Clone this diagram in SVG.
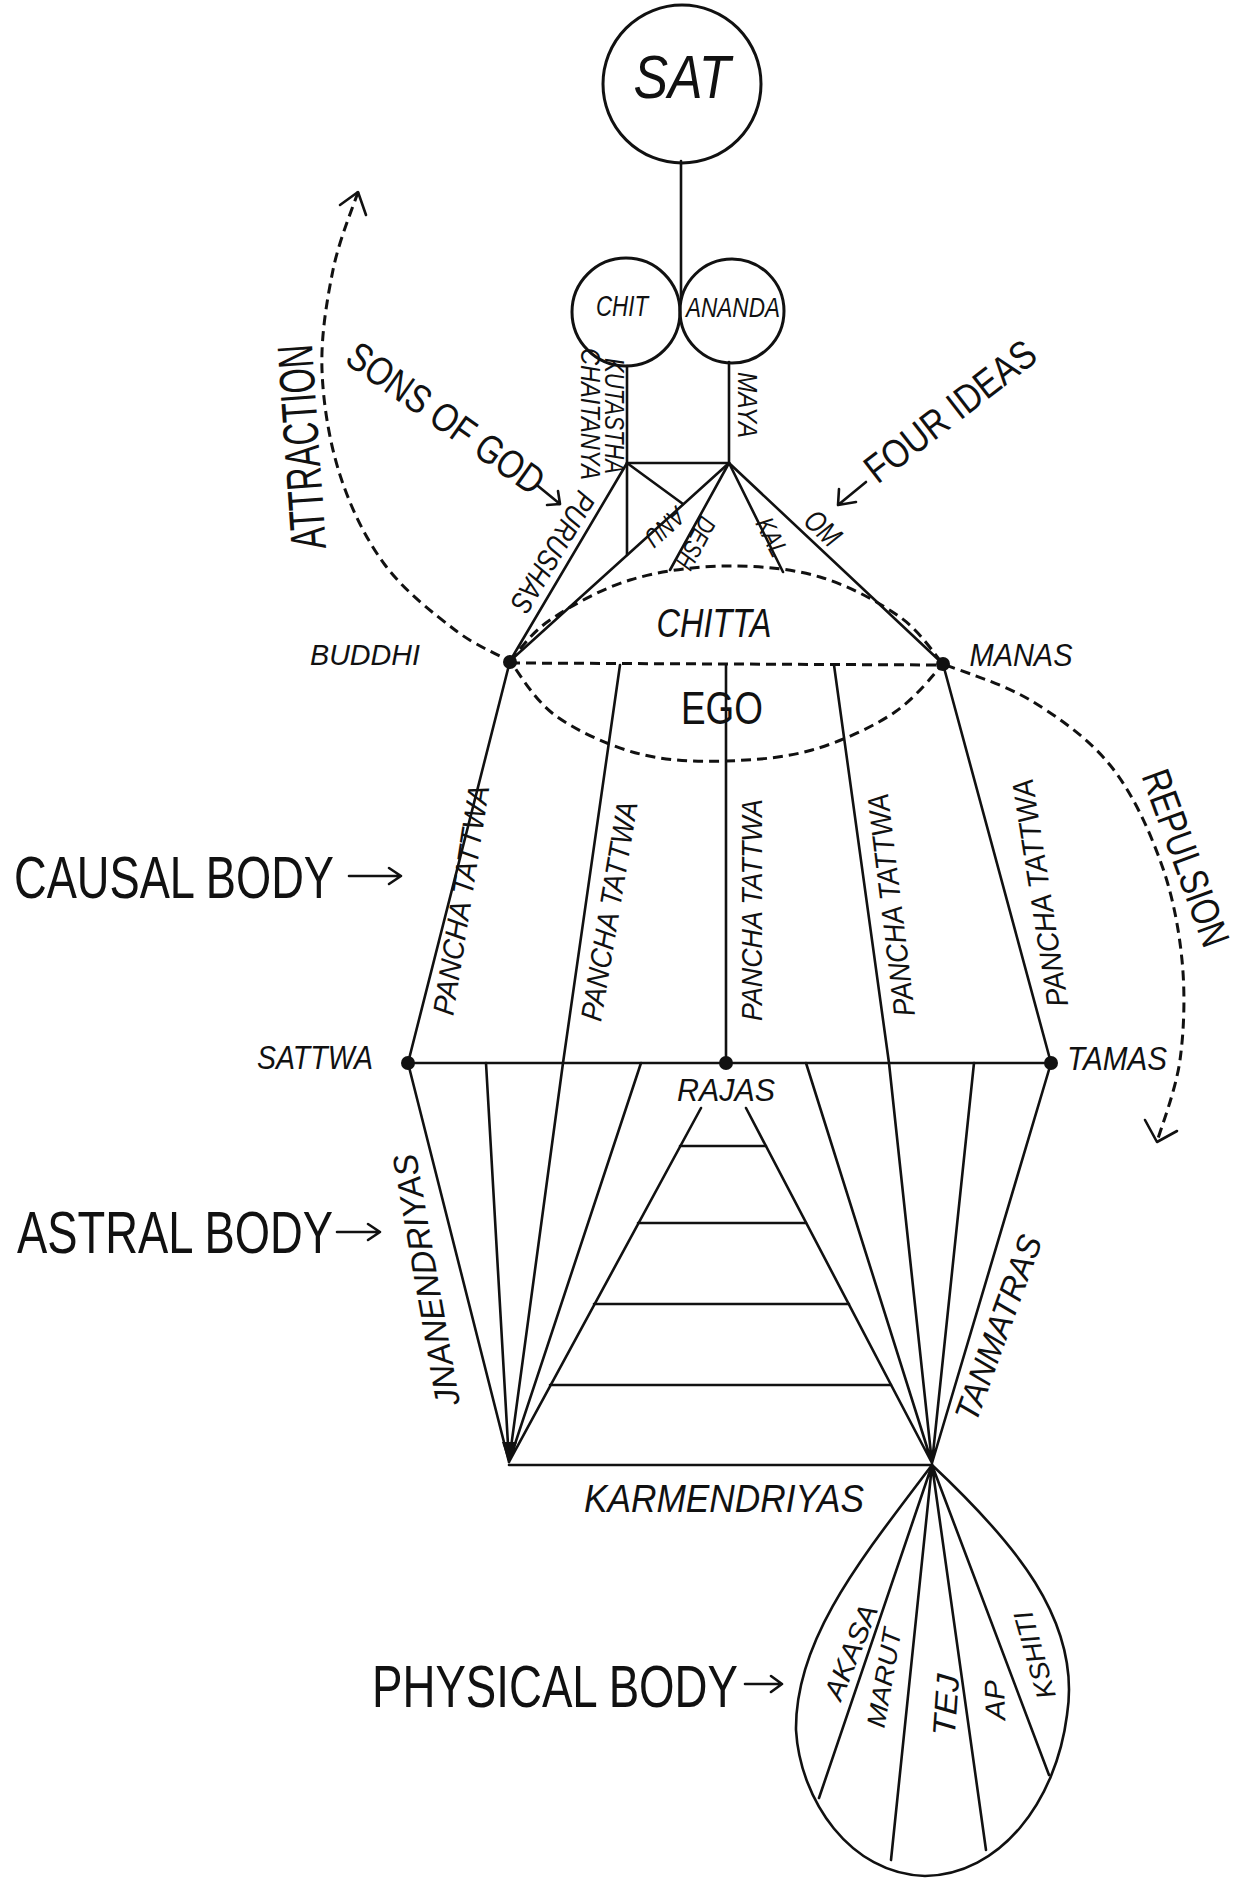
<svg xmlns="http://www.w3.org/2000/svg" width="1259" height="1881" viewBox="0 0 1259 1881">
<style>
.ln{fill:none;stroke:#111;stroke-width:2.6;stroke-linecap:round;stroke-linejoin:round}
.ds{fill:none;stroke:#111;stroke-width:3;stroke-dasharray:10 6}
.nd{fill:none;stroke:#111;stroke-width:3}
.dot{fill:#111}
.t{font-family:"Liberation Sans","DejaVu Sans",sans-serif;fill:#111;font-style:italic;text-anchor:middle;dominant-baseline:central}
.u{font-family:"Liberation Sans","DejaVu Sans",sans-serif;fill:#111;text-anchor:middle;dominant-baseline:central}
.big{font-family:"Liberation Sans Narrow","Liberation Sans","DejaVu Sans",sans-serif;fill:#111;font-size:60px}
</style>
<rect width="1259" height="1881" fill="#fff"/>

<g id="connectors">
  <path class="ln" d="M681,161 L681,298"/>
  <path class="ln" d="M627,366 L627,555"/>
  <path class="ln" d="M729,362 L729,463"/>
  <path class="ln" d="M627,463 L729,463"/>
  <path class="ln" d="M627,463 L683,504"/>
  <path class="ln" d="M627,463 L510,661"/>
  <path class="ln" d="M729,463 L510,661"/>
  <path class="ln" d="M729,463 L670,570"/>
  <path class="ln" d="M729,463 L783,572"/>
  <path class="ln" d="M729,463 L943,664"/>
  <path class="ds" d="M510,663 L943,665"/>
  <path class="ln" d="M510,661 L408,1063 M620,665 L563,1063 M726,665 L726,1063 M834,665 L889,1063 M943,664 L1051,1063"/>
  <path class="ln" d="M408,1063 L1051,1063"/>
  <path class="ln" d="M408,1063 L509,1462 M486,1063 L509,1462 M563,1063 L509,1462 M641,1063 L509,1462 M701,1108 L509,1462"/>
  <path class="ln" d="M1051,1063 L932,1463 M974,1063 L932,1463 M889,1063 L932,1463 M806,1063 L932,1463 M746,1108 L932,1463"/>
  <path class="ln" d="M680,1146 L766,1146 M638,1223 L806,1223 M594,1304 L849,1304 M550,1385 L891,1385"/>
  <path class="ln" d="M509,1465 L932,1465"/>
  <polygon class="dot" points="502,1442 517,1442 509,1464"/>
  <path class="ln" d="M932,1465 L819,1798 M932,1465 L891,1860 M932,1465 L986,1850 M932,1465 L1049,1775"/>
  <path class="ds" d="M358,192 C353.8,205 339,240.3 333,270 C327,299.7 320.8,335.8 322,370 C323.2,404.2 329.5,442.5 340,475 C350.5,507.5 365.8,539.2 385,565 C404.2,590.8 434.2,614 455,630 C475.8,646 500.8,655.8 510,661 C517.7,670.8 534.3,700.5 556,716 C577.7,731.5 611.7,747 640,754 C668.3,761 697.3,762 726,761 C754.7,760 783.8,758 812,750 C840.2,742 873.2,727 895,712 C916.8,697 935,672.5 943,664"/>
  <path class="ds" d="M510,661 C516.7,654.2 530,633.5 550,620 C570,606.5 600.7,589 630,580 C659.3,571 694.3,566.5 726,566 C757.7,565.5 791,568.5 820,577 C849,585.5 879.5,602.5 900,617 C920.5,631.5 935.8,656.2 943,664 C957.5,670 1002.2,683.2 1030,700 C1057.8,716.8 1088.3,738.3 1110,765 C1131.7,791.7 1148,827.5 1160,860 C1172,892.5 1178.7,926.7 1182,960 C1185.3,993.3 1184.2,1029.7 1180,1060 C1175.8,1090.3 1160.8,1128.3 1157,1142"/>
  <path class="ln" d="M340,205 L358,192 L366,215"/>
  <path class="ln" d="M1145,1120 L1157,1142 L1177,1131"/>
  <path class="ln" d="M538,486 L560,504 M547,505 L560,504 L558,491"/>
  <path class="ln" d="M866,482 L838,505 M839,489 L838,505 L856,502"/>
  <path class="ln" d="M349,876 L401,876 M389,868 L401,876 L389,884"/>
  <path class="ln" d="M337,1232 L380,1232 M368,1224 L380,1232 L368,1240"/>
  <path class="ln" d="M745,1684 L782,1684 M771,1676 L782,1684 L771,1692"/>
</g>

<g id="sat"><circle class="nd" cx="682" cy="84" r="79"/><text class="t" x="682" y="76" font-size="62" textLength="97" lengthAdjust="spacingAndGlyphs">SAT</text></g>
<g id="chit"><circle class="nd" cx="626" cy="312" r="54"/><text class="t" x="622" y="305" font-size="30" textLength="52" lengthAdjust="spacingAndGlyphs">CHIT</text></g>
<g id="ananda"><circle class="nd" cx="732" cy="311" r="52"/><text class="t" x="733" y="307" font-size="28" textLength="94" lengthAdjust="spacingAndGlyphs">ANANDA</text></g>

<g id="sons-of-god"><text class="t" transform="translate(590,414) rotate(90)" font-size="27" textLength="132" lengthAdjust="spacingAndGlyphs">CHAITANYA</text>
<text class="t" transform="translate(614,416) rotate(90)" font-size="27" textLength="116" lengthAdjust="spacingAndGlyphs">KUTASTHA</text>
<text class="t" transform="translate(553,552) rotate(121)" font-size="30" textLength="135" lengthAdjust="spacingAndGlyphs">PURUSHAS</text>
<text class="u" transform="translate(446,418) rotate(35.4)" font-size="40" textLength="232" lengthAdjust="spacingAndGlyphs">SONS OF GOD</text></g>

<g id="four-ideas"><text class="t" transform="translate(747,405) rotate(90)" font-size="28" textLength="66" lengthAdjust="spacingAndGlyphs">MAYA</text>
<text class="t" transform="translate(665,527) rotate(138)" font-size="26" textLength="44" lengthAdjust="spacingAndGlyphs">ANU</text>
<text class="t" transform="translate(696,543) rotate(118)" font-size="26" textLength="55" lengthAdjust="spacingAndGlyphs">DESH</text>
<text class="t" transform="translate(772,537) rotate(63)" font-size="26" textLength="40" lengthAdjust="spacingAndGlyphs">KAL</text>
<text class="t" transform="translate(823,528) rotate(43)" font-size="30" textLength="38" lengthAdjust="spacingAndGlyphs">OM</text>
<text class="u" transform="translate(950,411) rotate(-37.7)" font-size="40" textLength="205" lengthAdjust="spacingAndGlyphs">FOUR IDEAS</text></g>

<g id="attraction"><text class="u" transform="translate(302,447) rotate(-94)" font-size="50" textLength="205" lengthAdjust="spacingAndGlyphs">ATTRACTION</text></g>
<g id="repulsion"><text class="u" transform="translate(1186,858) rotate(70)" font-size="40" textLength="185" lengthAdjust="spacingAndGlyphs">REPULSION</text></g>

<g id="chitta-ego"><text class="t" x="714" y="623" font-size="40" textLength="115" lengthAdjust="spacingAndGlyphs">CHITTA</text>
<text class="u" x="722" y="708" font-size="46" textLength="82" lengthAdjust="spacingAndGlyphs">EGO</text></g>

<g id="buddhi"><circle class="dot" cx="510" cy="662" r="7"/><text class="t" x="365" y="654" font-size="30" textLength="110" lengthAdjust="spacingAndGlyphs">BUDDHI</text></g>
<g id="manas"><circle class="dot" cx="943" cy="664" r="7"/><text class="t" x="1021" y="655" font-size="32" textLength="103" lengthAdjust="spacingAndGlyphs">MANAS</text></g>

<g id="pancha-tattwa">
<text class="t" transform="translate(461,900) rotate(-81)" font-size="30" textLength="232" lengthAdjust="spacingAndGlyphs">PANCHA  TATTWA</text>
<text class="t" transform="translate(609,911) rotate(-80.5)" font-size="30" textLength="222" lengthAdjust="spacingAndGlyphs">PANCHA  TATTWA</text>
<text class="t" transform="translate(751,910) rotate(-90)" font-size="30" textLength="222" lengthAdjust="spacingAndGlyphs">PANCHA TATTWA</text>
<text class="t" transform="translate(891,905) rotate(-97)" font-size="30" textLength="224" lengthAdjust="spacingAndGlyphs">PANCHA  TATTWA</text>
<text class="t" transform="translate(1040,893) rotate(-99)" font-size="30" textLength="230" lengthAdjust="spacingAndGlyphs">PANCHA   TATTWA</text>
</g>

<g id="sattwa"><circle class="dot" cx="408" cy="1063" r="7"/><text class="t" x="315" y="1057" font-size="34" textLength="116" lengthAdjust="spacingAndGlyphs">SATTWA</text></g>
<g id="rajas"><circle class="dot" cx="726" cy="1063" r="7"/><text class="t" x="726" y="1090" font-size="32" textLength="98" lengthAdjust="spacingAndGlyphs">RAJAS</text></g>
<g id="tamas"><circle class="dot" cx="1051" cy="1063" r="7"/><text class="t" x="1117" y="1058" font-size="34" textLength="100" lengthAdjust="spacingAndGlyphs">TAMAS</text></g>

<g id="astral">
<text class="t" transform="translate(426,1280) rotate(-100)" font-size="34" textLength="255" lengthAdjust="spacingAndGlyphs">JNANENDRIYAS</text>
<text class="t" transform="translate(998,1328) rotate(-70)" font-size="34" textLength="195" lengthAdjust="spacingAndGlyphs">TANMATRAS</text>
<text class="t" x="724" y="1499" font-size="38" textLength="280" lengthAdjust="spacingAndGlyphs">KARMENDRIYAS</text>
</g>

<g id="physical">
<path class="ln" d="M932,1465 C1012,1540 1082,1620 1067,1715 C1056,1802 1000,1875 925,1876 C850,1874 800,1800 796,1730 C795,1640 860,1560 932,1465 Z"/>
<text class="t" transform="translate(851,1652) rotate(-68)" font-size="28" textLength="100" lengthAdjust="spacingAndGlyphs">AKASA</text>
<text class="t" transform="translate(884,1678) rotate(-80)" font-size="26" textLength="100" lengthAdjust="spacingAndGlyphs">MARUT</text>
<text class="t" transform="translate(946,1705) rotate(-86)" font-size="32" textLength="62" lengthAdjust="spacingAndGlyphs">TEJ</text>
<text class="t" transform="translate(995,1700) rotate(-92)" font-size="28" textLength="40" lengthAdjust="spacingAndGlyphs">AP</text>
<text class="t" transform="translate(1035,1655) rotate(-106)" font-size="27" textLength="90" lengthAdjust="spacingAndGlyphs">KSHITI</text>
</g>

<g id="body-labels">
<text class="big" x="14" y="898" textLength="320" lengthAdjust="spacingAndGlyphs">CAUSAL BODY</text>
<text class="big" x="17" y="1253" textLength="316" lengthAdjust="spacingAndGlyphs">ASTRAL BODY</text>
<text class="big" x="372" y="1707" textLength="366" lengthAdjust="spacingAndGlyphs">PHYSICAL BODY</text>
</g>
</svg>
